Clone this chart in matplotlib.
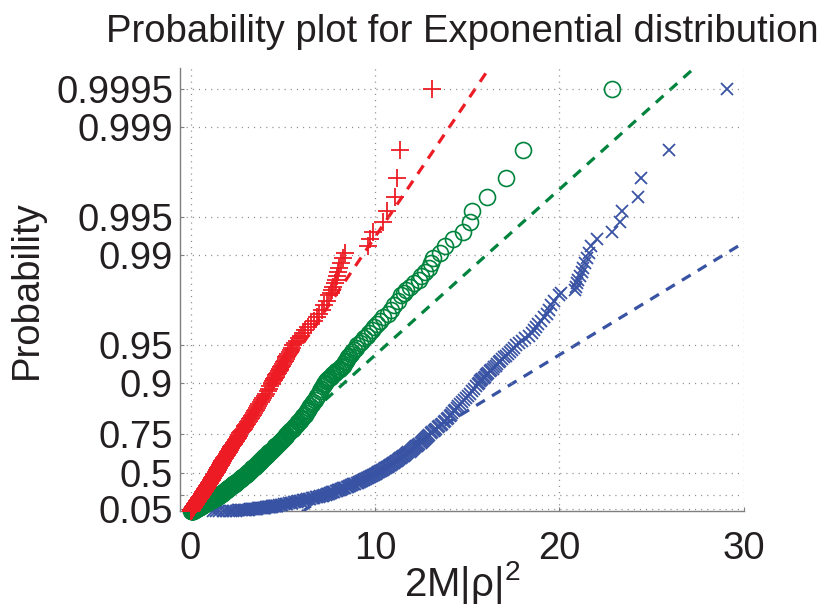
import numpy as np
import matplotlib.pyplot as plt

plt.rcParams['font.family'] = ['Liberation Sans', 'DejaVu Sans']
plt.rcParams['mathtext.fontset'] = 'custom'
plt.rcParams['mathtext.rm'] = 'Liberation Sans'

n_samples = 1000

# order statistics that are drawn (rank within each sorted sample of 1000)
ranks = np.r_[np.arange(1, 100, 2), np.arange(100, 901, 5),
              np.arange(902, 981, 2), np.arange(981, 1001)]

red_vals = [
    # ranks 1..99
    0.00, 0.00, 0.01, 0.01, 0.02, 0.02, 0.03, 0.03, 0.03, 0.04,
    0.04, 0.05, 0.05, 0.05, 0.06, 0.06, 0.07, 0.07, 0.08, 0.08,
    0.08, 0.09, 0.09, 0.10, 0.10, 0.10, 0.11, 0.11, 0.12, 0.12,
    0.13, 0.13, 0.13, 0.14, 0.14, 0.15, 0.15, 0.16, 0.16, 0.16,
    0.17, 0.17, 0.18, 0.18, 0.18, 0.19, 0.19, 0.20, 0.20, 0.21,
    # ranks 100..500
    0.21,
    0.22, 0.23, 0.25, 0.26, 0.27, 0.28, 0.29, 0.31, 0.32, 0.33,
    0.34, 0.35, 0.37, 0.38, 0.39, 0.40, 0.41, 0.43, 0.44, 0.45,
    0.46, 0.48, 0.49, 0.51, 0.52, 0.53, 0.55, 0.56, 0.58, 0.59,
    0.60, 0.62, 0.63, 0.65, 0.66, 0.67, 0.69, 0.70, 0.72, 0.73,
    0.74, 0.76, 0.77, 0.79, 0.80, 0.81, 0.83, 0.84, 0.86, 0.87,
    0.89, 0.90, 0.92, 0.93, 0.95, 0.96, 0.98, 0.99, 1.01, 1.02,
    1.04, 1.05, 1.07, 1.09, 1.11, 1.12, 1.14, 1.16, 1.17, 1.19,
    1.21, 1.23, 1.24, 1.26, 1.28, 1.30, 1.32, 1.33, 1.35, 1.37,
    # ranks 505..900
    1.39, 1.41, 1.42, 1.44, 1.46, 1.48, 1.50, 1.51, 1.53, 1.55,
    1.57, 1.59, 1.61, 1.63, 1.65, 1.67, 1.69, 1.71, 1.73, 1.75,
    1.78, 1.80, 1.83, 1.85, 1.88, 1.91, 1.93, 1.96, 1.98, 2.01,
    2.04, 2.07, 2.10, 2.13, 2.16, 2.18, 2.21, 2.24, 2.27, 2.30,
    2.34, 2.37, 2.41, 2.44, 2.48, 2.51, 2.55, 2.58, 2.62, 2.65,
    2.70, 2.74, 2.79, 2.83, 2.88, 2.93, 2.97, 3.02, 3.06, 3.11,
    3.16, 3.22, 3.27, 3.33, 3.38, 3.43, 3.49, 3.54, 3.60, 3.65,
    3.73, 3.80, 3.88, 3.95, 4.03, 4.10, 4.18, 4.25, 4.33, 4.40,
    # ranks 902..980
    4.44, 4.47, 4.51, 4.55, 4.58, 4.62, 4.66, 4.70, 4.74, 4.78,
    4.83, 4.87, 4.91, 4.96, 5.00, 5.05, 5.10, 5.15, 5.20, 5.25,
    5.31, 5.37, 5.44, 5.51, 5.58, 5.68, 5.77, 5.88, 5.98, 6.10,
    6.22, 6.38, 6.55, 6.70, 6.85, 6.98, 7.12, 7.25, 7.38, 7.52,
    # ranks 981..1000
    7.60, 7.68, 7.75, 7.82, 7.90, 7.96, 8.01, 8.06, 8.14, 8.28,
    8.37, 9.64, 9.73, 9.91, 10.45, 10.63, 11.08, 11.18, 11.36, 13.09,
]

green_vals = [
    # ranks 1..99
    0.05, 0.06, 0.07, 0.08, 0.09, 0.10, 0.12, 0.13, 0.14, 0.15,
    0.16, 0.17, 0.18, 0.19, 0.20, 0.21, 0.22, 0.23, 0.24, 0.25,
    0.26, 0.27, 0.29, 0.30, 0.31, 0.32, 0.33, 0.34, 0.35, 0.36,
    0.37, 0.39, 0.40, 0.41, 0.42, 0.43, 0.44, 0.45, 0.46, 0.47,
    0.49, 0.50, 0.51, 0.52, 0.53, 0.54, 0.56, 0.57, 0.58, 0.59,
    # ranks 100..500
    0.60,
    0.63, 0.66, 0.69, 0.72, 0.75, 0.78, 0.81, 0.84, 0.87, 0.90,
    0.93, 0.96, 1.00, 1.03, 1.06, 1.09, 1.12, 1.16, 1.19, 1.22,
    1.25, 1.28, 1.32, 1.35, 1.38, 1.41, 1.44, 1.48, 1.51, 1.54,
    1.57, 1.60, 1.63, 1.66, 1.69, 1.71, 1.74, 1.77, 1.80, 1.83,
    1.86, 1.88, 1.91, 1.94, 1.97, 1.99, 2.02, 2.05, 2.07, 2.10,
    2.13, 2.16, 2.20, 2.23, 2.26, 2.29, 2.32, 2.36, 2.39, 2.42,
    2.45, 2.48, 2.52, 2.55, 2.58, 2.61, 2.64, 2.68, 2.71, 2.74,
    2.78, 2.81, 2.85, 2.88, 2.92, 2.96, 2.99, 3.03, 3.06, 3.10,
    # ranks 505..900
    3.13, 3.17, 3.20, 3.23, 3.27, 3.30, 3.33, 3.36, 3.40, 3.43,
    3.47, 3.50, 3.54, 3.58, 3.62, 3.65, 3.69, 3.73, 3.76, 3.80,
    3.84, 3.88, 3.93, 3.97, 4.01, 4.05, 4.09, 4.14, 4.18, 4.22,
    4.27, 4.32, 4.36, 4.41, 4.46, 4.51, 4.56, 4.60, 4.65, 4.70,
    4.75, 4.80, 4.85, 4.90, 4.95, 5.00, 5.05, 5.10, 5.15, 5.20,
    5.27, 5.33, 5.40, 5.46, 5.53, 5.59, 5.66, 5.72, 5.79, 5.85,
    5.92, 5.98, 6.05, 6.11, 6.18, 6.24, 6.31, 6.37, 6.44, 6.50,
    6.58, 6.65, 6.73, 6.80, 6.88, 6.95, 7.03, 7.10, 7.18, 7.25,
    # ranks 902..980
    7.30, 7.35, 7.40, 7.47, 7.53, 7.60, 7.67, 7.75, 7.82, 7.91,
    8.01, 8.10, 8.17, 8.25, 8.32, 8.37, 8.42, 8.48, 8.54, 8.60,
    8.69, 8.78, 8.87, 8.96, 9.05, 9.18, 9.30, 9.43, 9.55, 9.69,
    9.83, 9.97, 10.10, 10.28, 10.45, 10.68, 10.88, 11.05, 11.22, 11.40,
    # ranks 981..1000
    11.55, 11.70, 11.90, 12.10, 12.40, 12.50, 12.70, 12.95, 13.05, 13.16,
    13.50, 13.80, 14.24, 14.79, 15.15, 15.24, 16.05, 17.10, 18.04, 22.87,
]

blue_vals = [
    # ranks 1..99
    1.20, 1.40, 1.57, 1.75, 1.92, 2.06, 2.20, 2.33, 2.45, 2.55,
    2.64, 2.73, 2.81, 2.88, 2.95, 3.02, 3.09, 3.15, 3.21, 3.27,
    3.33, 3.39, 3.45, 3.51, 3.57, 3.62, 3.67, 3.72, 3.77, 3.82,
    3.86, 3.91, 3.96, 4.01, 4.06, 4.10, 4.14, 4.19, 4.23, 4.28,
    4.32, 4.36, 4.40, 4.44, 4.48, 4.52, 4.56, 4.60, 4.64, 4.68,
    # ranks 100..500
    4.70,
    4.79, 4.88, 4.97, 5.06, 5.15, 5.24, 5.33, 5.42, 5.51, 5.60,
    5.68, 5.76, 5.84, 5.92, 6.00, 6.08, 6.16, 6.24, 6.32, 6.40,
    6.48, 6.56, 6.64, 6.72, 6.80, 6.88, 6.96, 7.04, 7.12, 7.20,
    7.26, 7.32, 7.38, 7.44, 7.50, 7.56, 7.62, 7.68, 7.74, 7.80,
    7.86, 7.92, 7.98, 8.04, 8.10, 8.16, 8.22, 8.28, 8.34, 8.40,
    8.46, 8.52, 8.58, 8.64, 8.70, 8.76, 8.82, 8.88, 8.94, 9.00,
    9.06, 9.11, 9.17, 9.22, 9.28, 9.33, 9.39, 9.44, 9.50, 9.55,
    9.61, 9.66, 9.72, 9.77, 9.83, 9.88, 9.94, 9.99, 10.05, 10.10,
    # ranks 505..900
    10.16, 10.21, 10.27, 10.32, 10.38, 10.43, 10.49, 10.54, 10.60, 10.65,
    10.71, 10.76, 10.82, 10.87, 10.93, 10.98, 11.04, 11.09, 11.15, 11.20,
    11.26, 11.31, 11.37, 11.42, 11.48, 11.53, 11.59, 11.64, 11.70, 11.75,
    11.81, 11.87, 11.93, 11.99, 12.05, 12.11, 12.17, 12.23, 12.29, 12.35,
    12.41, 12.47, 12.53, 12.59, 12.65, 12.71, 12.77, 12.83, 12.89, 12.95,
    13.03, 13.10, 13.18, 13.26, 13.33, 13.41, 13.49, 13.56, 13.64, 13.72,
    13.80, 13.88, 13.96, 14.04, 14.12, 14.20, 14.28, 14.36, 14.44, 14.52,
    14.63, 14.74, 14.84, 14.95, 15.06, 15.17, 15.28, 15.38, 15.49, 15.60,
    # ranks 902..980
    15.65, 15.71, 15.76, 15.82, 15.89, 15.95, 16.02, 16.08, 16.15, 16.23,
    16.30, 16.38, 16.46, 16.54, 16.62, 16.71, 16.80, 16.90, 17.00, 17.10,
    17.20, 17.30, 17.41, 17.53, 17.65, 17.80, 17.95, 18.15, 18.35, 18.49,
    18.62, 18.74, 18.85, 19.02, 19.18, 19.33, 19.45, 19.55, 19.72, 19.95,
    # ranks 981..1000
    20.10, 20.84, 20.88, 20.93, 21.00, 21.10, 21.20, 21.29, 21.38, 21.47,
    21.60, 21.72, 22.02, 22.83, 23.30, 23.37, 24.27, 24.42, 25.95, 29.10,
]

# reference lines: x value at the first and third quartile
red_ref = [0.52, 2.76]
green_ref = [1.55, 5.23]
blue_ref = [7.47, 12.91]

prob_ticks = [0.05, 0.25, 0.5, 0.75, 0.9, 0.95, 0.99, 0.995, 0.999, 0.9995]
prob_labels = ['0.05', '', '0.5', '0.75', '0.9', '0.95', '0.99', '0.995', '0.999', '0.9995']

red = '#ed1c24'
green = '#00843d'
blue = '#3953a4'
text_col = '#231f20'
fs = 27.5


def to_exp(p):
    p = np.asarray(p, dtype=float)
    return -np.log1p(-np.minimum(p, 1 - 1e-15))


def from_exp(q):
    return -np.expm1(-np.asarray(q, dtype=float))


fig = plt.figure(figsize=(8.23, 6.11), dpi=100)
ax = fig.add_axes([0.2187, 0.1629, 0.6853, 0.7259])
ax.set_yscale('function', functions=(to_exp, from_exp))

probs = (ranks - 0.5) / n_samples

for ref, col in [(blue_ref, blue), (green_ref, green), (red_ref, red)]:
    ax.axline((ref[0], 0.25), (ref[1], 0.75), color=col, lw=2.3,
              dashes=(3.2, 2.6), zorder=1.5)

ax.plot(blue_vals, probs, ls='none', marker='x', ms=9.2, mew=1.3, color=blue,
        zorder=2, clip_on=False)
ax.plot(green_vals, probs, ls='none', marker='o', ms=11.5, mew=1.2, mfc='none', mec=green,
        zorder=2.1, clip_on=False)
ax.plot(red_vals, probs, ls='none', marker='+', ms=12.5, mew=1.3, color=red,
        zorder=2.2, clip_on=False)

ax.set_xlim(-0.57, 30)
ax.set_ylim(0, from_exp(7.978))
ax.set_xticks([0, 10, 20, 30])
ax.set_yticks(prob_ticks, prob_labels)
ax.minorticks_off()

ax.grid(True, color='#8c8c8c', lw=0.9, dashes=(0.9, 4.0), zorder=0)
for side in ['top', 'right']:
    ax.spines[side].set_visible(False)
for side in ['left', 'bottom']:
    ax.spines[side].set_color('#7f7f7f')
    ax.spines[side].set_linewidth(1.0)
    ax.spines[side].set_zorder(1)

ax.tick_params(axis='both', direction='in', length=3, width=0.8, color='#7f7f7f',
               labelsize=fs, labelcolor=text_col)
ax.tick_params(axis='x', pad=14)
ax.tick_params(axis='y', pad=5)

ax.set_title('Probability plot for Exponential distribution', fontsize=fs,
             color=text_col, pad=19)
ax.set_ylabel('Probability', fontsize=fs, color=text_col, labelpad=8)
ax.set_xlabel(r'2M|ρ|$^{2}$', fontsize=29, color=text_col, labelpad=-6)

fig.savefig('out.png', dpi=100)
